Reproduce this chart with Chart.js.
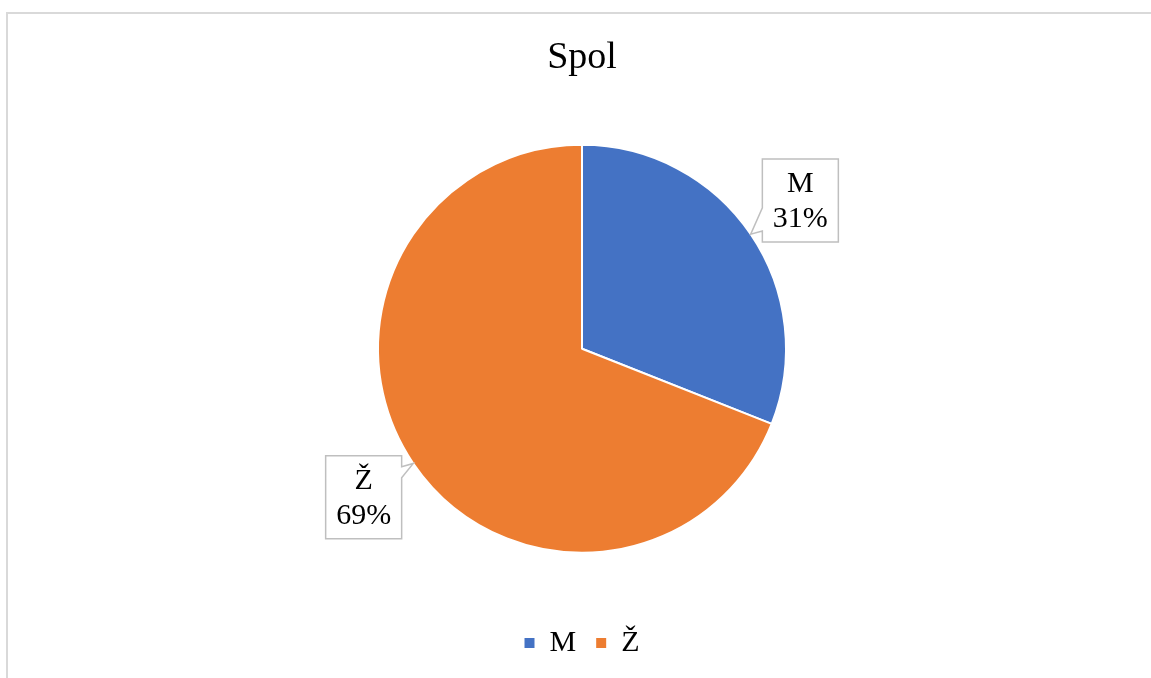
<!DOCTYPE html>
<html>
<head>
<meta charset="utf-8">
<script src="https://cdn.jsdelivr.net/npm/chart.js@4.4.1/dist/chart.umd.min.js"></script>
<style>
  body { margin: 0; background: #fff; }
  #frame { position: absolute; left: 6px; top: 12px; width: 1200px; height: 700px;
           border-left: 2px solid #d9d9d9; border-top: 2px solid #d9d9d9; }
  #wrap { position: absolute; left: 0; top: 0; width: 1151px; height: 678px; }
</style>
</head>
<body>
<div id="frame"></div>
<div id="wrap"><canvas id="sexChart"></canvas></div>
<script>
'use strict'
var categories = ['M', 'Ž'];
var shares = [31, 69];
var colors = ['#4472C4', '#ED7D31'];
var titleText = 'Spol';

var calloutPlugin = {
    id: 'callouts',
    afterDatasetsDraw: function(chart) {
        var ctx = chart.ctx;
        var meta = chart.getDatasetMeta(0);
        var data = chart.data.datasets[0].data;
        var total = data.reduce(function(a, b) { return a + b; }, 0);
        var w = 76, h = 83;
        meta.data.forEach(function(arc, i) {
            var p = arc.getProps(['x', 'y', 'startAngle', 'endAngle', 'outerRadius'], true);
            var a = (p.startAngle + p.endAngle) / 2;
            var tx = p.x + p.outerRadius * Math.cos(a);
            var ty = p.y + p.outerRadius * Math.sin(a);
            var cx = p.x + (p.outerRadius + 60) * Math.cos(a);
            var cy = p.y + (p.outerRadius + 60) * Math.sin(a);
            var l = cx - w / 2, t = cy - h / 2, r = cx + w / 2, b = cy + h / 2;
            var y1, y2;
            if (ty > cy) { y2 = b - 11; y1 = y2 - 23; } else { y1 = t + 11; y2 = y1 + 11; }
            ctx.save();
            ctx.beginPath();
            ctx.moveTo(l, t);
            ctx.lineTo(r, t);
            if (tx > r) {
                ctx.lineTo(r, y1); ctx.lineTo(tx, ty); ctx.lineTo(r, y2);
            }
            ctx.lineTo(r, b);
            ctx.lineTo(l, b);
            if (tx < l) {
                ctx.lineTo(l, y2); ctx.lineTo(tx, ty); ctx.lineTo(l, y1);
            }
            ctx.closePath();
            ctx.fillStyle = '#ffffff';
            ctx.fill();
            ctx.strokeStyle = '#bfbfbf';
            ctx.lineWidth = 1.5;
            ctx.stroke();
            ctx.fillStyle = '#000000';
            ctx.font = '30px "Liberation Serif", "Times New Roman", serif';
            ctx.textAlign = 'center';
            ctx.textBaseline = 'middle';
            ctx.fillText(chart.data.labels[i], cx, cy - 16);
            ctx.fillText(Math.round(data[i] / total * 100) + '%', cx, cy + 19);
            ctx.restore();
        });
    }
};

var datapie = {
    labels: categories,
    datasets: [{
        data: shares,
        backgroundColor: colors,
        borderColor: '#ffffff',
        borderWidth: 2,
        radius: 204
    }]
};

var optionpie = {
    responsive: true,
    maintainAspectRatio: false,
    animation: false,
    layout: { padding: { left: 13, top: 0, right: 0, bottom: 10 } },
    plugins: {
        title: {
            display: true,
            text: titleText,
            color: '#000000',
            font: { family: '"Liberation Serif", "Times New Roman", serif', size: 38, weight: 'normal' },
            padding: { top: 35, bottom: 9 }
        },
        legend: {
            display: true,
            position: 'bottom',
            labels: {
                color: '#000000',
                boxWidth: 10,
                boxHeight: 10,
                padding: 20,
                font: { family: '"Liberation Serif", "Times New Roman", serif', size: 30 },
                generateLabels: function(chart) {
                    return Chart.overrides.pie.plugins.legend.labels.generateLabels(chart).map(function(item) {
                        item.lineWidth = 0;
                        item.strokeStyle = item.fillStyle;
                        return item;
                    });
                }
            }
        },
        tooltip: { enabled: false }
    }
};

var ctx = document.getElementById('sexChart');
var pieChart = new Chart(ctx, {
    type: 'pie',
    data: datapie,
    options: optionpie,
    plugins: [calloutPlugin]
});
</script>
</body>
</html>
